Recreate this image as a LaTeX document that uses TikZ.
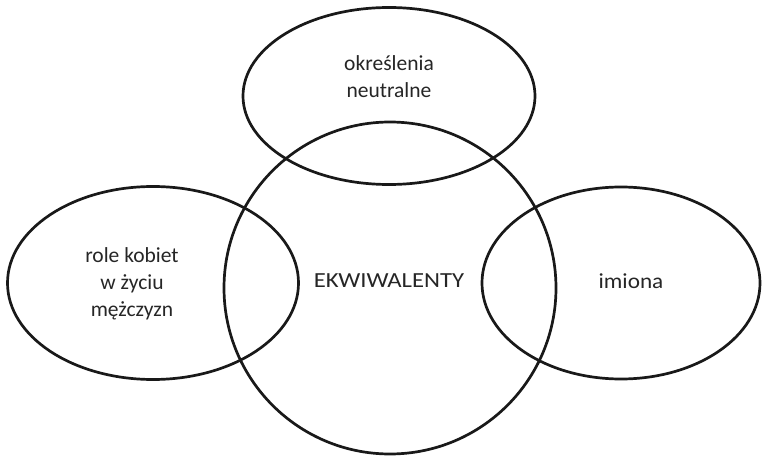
\documentclass[tikz,border=0pt]{standalone}
\usepackage{fontspec}
\setmainfont{Carlito}
\usetikzlibrary{shapes.geometric}
\begin{document}
\begin{tikzpicture}[x=1pt,y=-1pt,
  blob/.style={draw=black!90,line width=2.7pt,ellipse,inner sep=0pt},
  lbl/.style={align=center,font=\fontsize{21.5}{27}\selectfont,text=black!85,inner sep=0pt}]
\useasboundingbox (0,0) rectangle (766,457);
\node[blob,minimum width=292pt,minimum height=177pt] (top) at (389,96) {};
\node[blob,minimum width=291pt,minimum height=193pt] (left) at (153,283) {};
\node[blob,minimum width=278pt,minimum height=192pt] (right) at (621,283) {};
\node[blob,circle,minimum size=332pt] (mid) at (390,288) {};
\node[lbl] (ttop) at (389,77) {określenia\\neutralne};
\node[lbl] (tleft) at (132,284) {role kobiet\\w życiu\\mężczyzn};
\node[lbl] (tmid) at (389,281) {\scalebox{1.15}[1]{EKWIWALENTY}};
\node[lbl] (tright) at (631,281) {\scalebox{1.08}[1]{imiona}};
\end{tikzpicture}
\end{document}
